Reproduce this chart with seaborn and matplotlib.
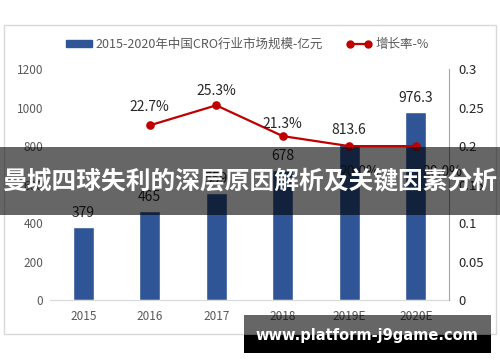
import numpy as np
import pandas as pd
import matplotlib
matplotlib.use('Agg')
import matplotlib.pyplot as plt
from matplotlib.patches import Rectangle
from matplotlib.lines import Line2D
from matplotlib.ticker import FuncFormatter
import seaborn as sns

# data
years = ['2015', '2016', '2017', '2018', '2019E', '2020E']
market = [379, 465, 559, 678, 813.6, 976.3]
growth = [np.nan, 0.227, 0.253, 0.213, 0.200, 0.200]
bar_name = '2015-2020年中国CRO行业市场规模-亿元'
line_name = '增长率-%'
banner = '曼城四球失利的深层原因解析及关键因素分析'
watermark = 'www.platform-j9game.com'

df = pd.DataFrame({'year': years, 'market': market, 'growth': growth})

sns.set_style('white')
plt.rcParams['font.family'] = ['Noto Sans CJK SC', 'DejaVu Sans']

bar_color = '#2F5597'
line_color = '#C00000'
tick_color = '#595959'

fig = plt.figure(figsize=(5, 3.62), dpi=100)
ax = fig.add_axes([0.1, 0.171, 0.798, 0.638])

sns.barplot(data=df, x='year', y='market', order=years, color=bar_color,
            width=0.32, saturation=1, ax=ax)
ax.set_ylim(0, 1200)
ax.set_yticks(range(0, 1201, 200))
ax.set_xlim(-0.5, 5.5)
ax.set_xlabel('')
ax.set_ylabel('')
for s in ['left', 'top', 'right']:
    ax.spines[s].set_visible(False)
ax.spines['bottom'].set_color('#D9D9D9')
ax.tick_params(axis='both', length=0, labelsize=8.5, colors=tick_color)
ax.tick_params(axis='x', pad=7)
ax.tick_params(axis='y', pad=5)
ax.bar_label(ax.containers[0], fmt='%g', padding=5, fontsize=10, color='#262626')

ax2 = ax.twinx()
sns.pointplot(data=df, x='year', y='growth', order=years, color=line_color,
              markers='o', markersize=5, linewidth=1.6, errorbar=None, ax=ax2)
ax2.set_ylim(0, 0.3)
ax2.set_yticks(np.arange(0, 0.31, 0.05))
ax2.yaxis.set_major_formatter(FuncFormatter(lambda v, p: '%g' % round(v, 2)))
ax2.set_xlim(-0.5, 5.5)
ax2.set_ylabel('')
ax2.set_xlabel('')
for s in ['left', 'top', 'bottom']:
    ax2.spines[s].set_visible(False)
ax2.spines['right'].set_color('#A6A6A6')
ax2.tick_params(axis='y', length=0, labelsize=9.5, colors='#262626', pad=7)

# growth labels
offsets = {1: (0, 8), 2: (0, 5), 3: (0, 4), 4: (7, -24), 5: (19, -24)}
for i, g in enumerate(growth):
    if np.isnan(g):
        continue
    dx, dy = offsets[i]
    ax2.annotate('{:.1%}'.format(g), xy=(i, g), xytext=(dx, dy),
                 textcoords='offset points', ha='center', va='bottom',
                 fontsize=10, color='#262626')

# legend
handles = [Rectangle((0, 0), 1, 1, color=bar_color),
           Line2D([0], [0], color=line_color, marker='o', markersize=5, lw=1.6)]
fig.legend(handles, [bar_name, line_name], loc='center', bbox_to_anchor=(0.495, 0.878),
           ncol=2, frameon=False, fontsize=9, handlelength=2.1, handleheight=0.45,
           numpoints=2, columnspacing=1.8, handletextpad=0.3, labelcolor=tick_color)

# chart frame
fig.patches.append(Rectangle((0.008, 0.077), 0.984, 0.854, transform=fig.transFigure,
                             fill=False, edgecolor='#D9D9D9', lw=1, zorder=-1))

# overlay banner
fig.patches.append(Rectangle((0, 0.406), 1, 0.188, transform=fig.transFigure,
                             facecolor='black', alpha=0.6, lw=0, zorder=10))
fig.text(0.5, 0.497, banner, ha='center', va='center', fontsize=17.8,
         fontweight='heavy', color='white', zorder=11)

# watermark
fig.patches.append(Rectangle((0.488, 0.075), 0.494, 0.055, transform=fig.transFigure,
                             facecolor='black', alpha=0.6, lw=0, zorder=10))
fig.patches.append(Rectangle((0.488, 0.025), 0.494, 0.050, transform=fig.transFigure,
                             facecolor='black', lw=0, zorder=10))
fig.text(0.733, 0.072, watermark, ha='center', va='center', fontsize=10.5,
         fontweight='bold', color='white', family=['DejaVu Sans'], zorder=11)

fig.savefig('out.png', dpi=100)
